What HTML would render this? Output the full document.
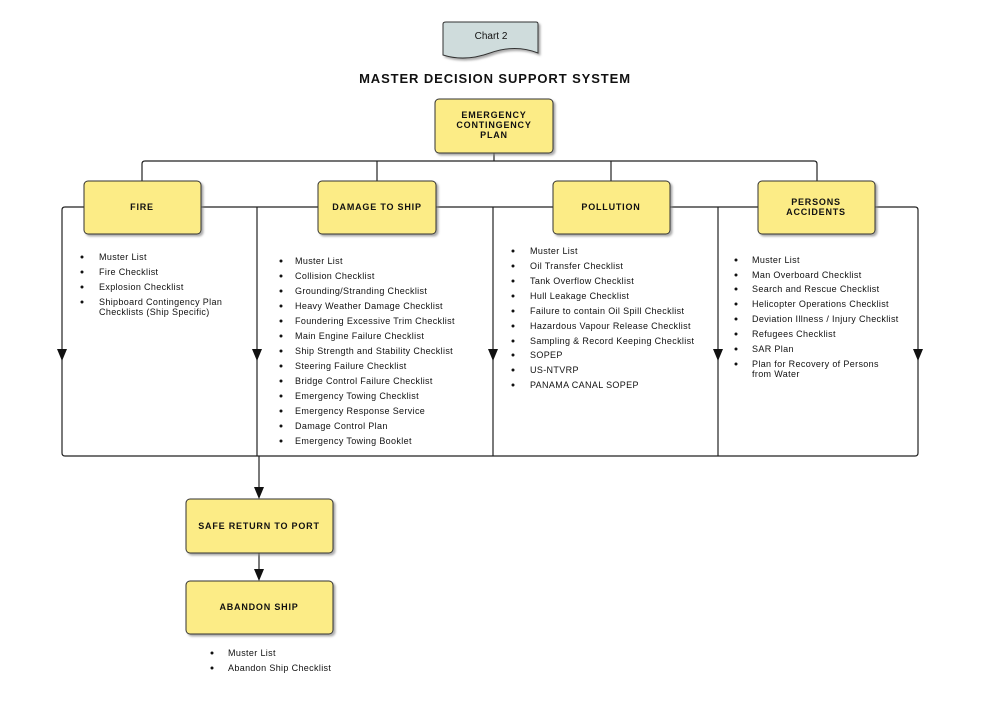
<!DOCTYPE html>
<html><head><meta charset="utf-8"><style>
html,body{margin:0;padding:0;background:#fff;}
svg{display:block;font-family:"Liberation Sans",Arial,sans-serif;}
.l{font-size:9px;letter-spacing:0.35px;fill:#111;}
.b{font-size:9px;font-weight:bold;letter-spacing:0.8px;fill:#111;}
</style></head><body>
<svg width="981" height="707" viewBox="0 0 981 707" xmlns="http://www.w3.org/2000/svg">
<defs>
<filter id="sh" x="-10%" y="-10%" width="130%" height="130%"><feDropShadow dx="2" dy="2" stdDeviation="1" flood-color="#888" flood-opacity="0.7"/></filter>
</defs>
<!-- Chart 2 -->
<path d="M443,24 Q443,22 446,22 L536,22 Q538,22 538,24 L538,53 Q515,44 490,53 Q465,62 443,55 Z" fill="#cfdcdc" stroke="#333" stroke-width="1" filter="url(#sh)"/>
<text x="491" y="39" font-size="10" text-anchor="middle" fill="#111">Chart 2</text>
<text x="495" y="83" font-size="13" font-weight="bold" text-anchor="middle" letter-spacing="0.9" fill="#111">MASTER DECISION SUPPORT SYSTEM</text>
<!-- connectors -->
<g stroke="#222" stroke-width="1.2" fill="none">
<line x1="494" y1="153" x2="494" y2="161"/>
<path d="M142,181 L142,164 Q142,161 145,161 L814,161 Q817,161 817,164 L817,181"/>
<line x1="377" y1="161" x2="377" y2="181"/>
<line x1="611" y1="161" x2="611" y2="181"/>
<path d="M62,453 L62,210 Q62,207 65,207 L915,207 Q918,207 918,210 L918,453 Q918,456 915,456 L65,456 Q62,456 62,453"/>
<line x1="257" y1="207" x2="257" y2="456"/>
<line x1="493" y1="207" x2="493" y2="456"/>
<line x1="718" y1="207" x2="718" y2="456"/>
<line x1="259" y1="456" x2="259" y2="490"/>
<line x1="259" y1="553" x2="259" y2="572"/>
</g>
<g fill="#111">
<path d="M57,349 L67,349 L62,361 Z"/>
<path d="M252,349 L262,349 L257,361 Z"/>
<path d="M488,349 L498,349 L493,361 Z"/>
<path d="M713,349 L723,349 L718,361 Z"/>
<path d="M913,349 L923,349 L918,361 Z"/>
<path d="M254,487 L264,487 L259,499 Z"/>
<path d="M254,569 L264,569 L259,581 Z"/>
</g>
<!-- boxes -->
<g fill="#fcec86" stroke="#333" stroke-width="1" filter="url(#sh)">
<rect x="435" y="99" width="118" height="54" rx="4"/>
<rect x="84" y="181" width="117" height="53" rx="4"/>
<rect x="318" y="181" width="118" height="53" rx="4"/>
<rect x="553" y="181" width="117" height="53" rx="4"/>
<rect x="758" y="181" width="117" height="53" rx="4"/>
<rect x="186" y="499" width="147" height="54" rx="4"/>
<rect x="186" y="581" width="147" height="53" rx="4"/>
</g>
<g class="b" text-anchor="middle">
<text x="494" y="118">EMERGENCY</text><text x="494" y="128">CONTINGENCY</text><text x="494" y="138">PLAN</text>
<text x="142" y="210">FIRE</text>
<text x="377" y="210">DAMAGE TO SHIP</text>
<text x="611" y="210">POLLUTION</text>
<text x="816" y="205">PERSONS</text><text x="816" y="215">ACCIDENTS</text>
<text x="259" y="529">SAFE RETURN TO PORT</text>
<text x="259" y="610">ABANDON SHIP</text>
</g>
<!-- lists -->
<g class="l">
<g><text x="99" y="260">Muster List</text><text x="99" y="275">Fire Checklist</text><text x="99" y="290">Explosion Checklist</text><text x="99" y="305">Shipboard Contingency Plan</text><text x="99" y="315">Checklists (Ship Specific)</text></g>
<g><text x="295" y="264">Muster List</text><text x="295" y="279">Collision Checklist</text><text x="295" y="294">Grounding/Stranding Checklist</text><text x="295" y="309">Heavy Weather Damage Checklist</text><text x="295" y="324">Foundering Excessive Trim Checklist</text><text x="295" y="339">Main Engine Failure Checklist</text><text x="295" y="354">Ship Strength and Stability Checklist</text><text x="295" y="369">Steering Failure Checklist</text><text x="295" y="384">Bridge Control Failure Checklist</text><text x="295" y="399">Emergency Towing Checklist</text><text x="295" y="414">Emergency Response Service</text><text x="295" y="429">Damage Control Plan</text><text x="295" y="444">Emergency Towing Booklet</text></g>
<g><text x="530" y="254">Muster List</text><text x="530" y="269">Oil Transfer Checklist</text><text x="530" y="284">Tank Overflow Checklist</text><text x="530" y="299">Hull Leakage Checklist</text><text x="530" y="314">Failure to contain Oil Spill Checklist</text><text x="530" y="329">Hazardous Vapour Release Checklist</text><text x="530" y="344">Sampling &amp; Record Keeping Checklist</text><text x="530" y="358">SOPEP</text><text x="530" y="373">US-NTVRP</text><text x="530" y="388">PANAMA CANAL SOPEP</text></g>
<g><text x="752" y="263">Muster List</text><text x="752" y="278">Man Overboard Checklist</text><text x="752" y="292">Search and Rescue Checklist</text><text x="752" y="307">Helicopter Operations Checklist</text><text x="752" y="322">Deviation Illness / Injury Checklist</text><text x="752" y="337">Refugees Checklist</text><text x="752" y="352">SAR Plan</text><text x="752" y="367">Plan for Recovery of Persons</text><text x="752" y="377">from Water</text></g>
<g><text x="228" y="656">Muster List</text><text x="228" y="671">Abandon Ship Checklist</text></g>
</g>
<g fill="#111">
<circle cx="82" cy="257" r="1.5"/><circle cx="82" cy="272" r="1.5"/><circle cx="82" cy="287" r="1.5"/><circle cx="82" cy="302" r="1.5"/>
<circle cx="281" cy="261" r="1.5"/><circle cx="281" cy="276" r="1.5"/><circle cx="281" cy="291" r="1.5"/><circle cx="281" cy="306" r="1.5"/><circle cx="281" cy="321" r="1.5"/><circle cx="281" cy="336" r="1.5"/><circle cx="281" cy="351" r="1.5"/><circle cx="281" cy="366" r="1.5"/><circle cx="281" cy="381" r="1.5"/><circle cx="281" cy="396" r="1.5"/><circle cx="281" cy="411" r="1.5"/><circle cx="281" cy="426" r="1.5"/><circle cx="281" cy="441" r="1.5"/>
<circle cx="513" cy="251" r="1.5"/><circle cx="513" cy="266" r="1.5"/><circle cx="513" cy="281" r="1.5"/><circle cx="513" cy="296" r="1.5"/><circle cx="513" cy="311" r="1.5"/><circle cx="513" cy="326" r="1.5"/><circle cx="513" cy="341" r="1.5"/><circle cx="513" cy="355" r="1.5"/><circle cx="513" cy="370" r="1.5"/><circle cx="513" cy="385" r="1.5"/>
<circle cx="736" cy="260" r="1.5"/><circle cx="736" cy="275" r="1.5"/><circle cx="736" cy="289" r="1.5"/><circle cx="736" cy="304" r="1.5"/><circle cx="736" cy="319" r="1.5"/><circle cx="736" cy="334" r="1.5"/><circle cx="736" cy="349" r="1.5"/><circle cx="736" cy="364" r="1.5"/>
<circle cx="212" cy="653" r="1.5"/><circle cx="212" cy="668" r="1.5"/>
</g>
</svg>
</body></html>
